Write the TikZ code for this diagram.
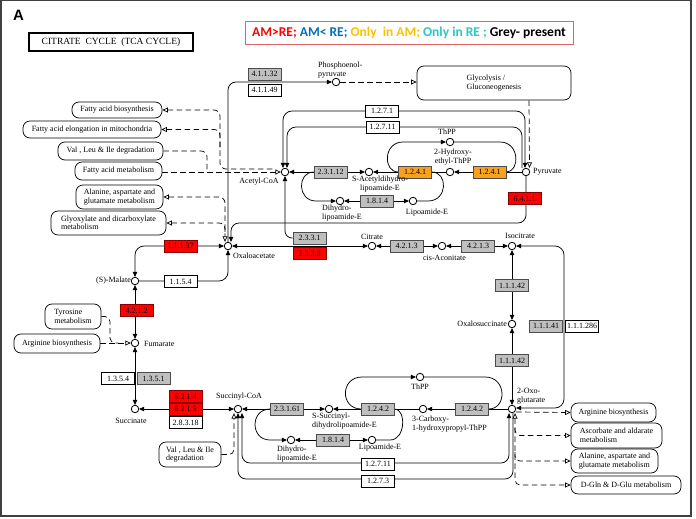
\documentclass[tikz,border=0pt]{standalone}
\usepackage{fontspec}
\setmainfont{Liberation Serif}
\newfontfamily\legfont{Carlito}
\newfontfamily\headfont{Liberation Sans}
\usetikzlibrary{arrows.meta,backgrounds}
\definecolor{kgrey}{HTML}{BFBFBF}
\definecolor{kred}{HTML}{FF0000}
\definecolor{kdred}{HTML}{8A0000}
\definecolor{korange}{HTML}{F9A11B}
\definecolor{lblue}{HTML}{0070C0}
\definecolor{lyel}{HTML}{FFC000}
\definecolor{lcyan}{HTML}{2CC6C6}
\definecolor{lbord}{HTML}{E06666}
\definecolor{kframe}{HTML}{404040}
\tikzset{
  ln/.style={line width=0.75pt, draw=black},
  dl/.style={line width=0.7pt, draw=black, dash pattern=on 5.5pt off 3.5pt},
  >={Triangle[length=5pt,width=4.6pt]},
  oh/.style={-{Triangle[open,length=5.5pt,width=5pt]}},
  ho/.style={{Triangle[open,length=5.5pt,width=5pt]}-},
  hoh/.style={{Triangle[open,length=5.5pt,width=5pt]}-{Triangle[open,length=5.5pt,width=5pt]}},
  ec/.style={draw=black, line width=0.6pt, fill=white, minimum width=33pt, minimum height=12pt, inner sep=0pt, font=\fontsize{8}{8}\selectfont},
  ecg/.style={ec, fill=kgrey, draw=black!70},
  ecr/.style={ec, fill=kred, draw=kdred},
  eco/.style={ec, fill=korange, draw=black!70},
  cpd/.style={circle, draw=black, fill=white, line width=0.8pt, minimum size=7.5pt, inner sep=0pt},
  pw/.style={draw=black, line width=0.7pt, rounded corners=7pt, fill=white, inner sep=0pt, align=left, font=\fontsize{8}{8.5}\selectfont},
  lb/.style={inner sep=0pt, font=\fontsize{8}{8.5}\selectfont},
}
\begin{document}
\begin{tikzpicture}[x=1pt,y=-1pt]
\useasboundingbox (0,0) rectangle (696,519);
% header
\node[font=\headfont\bfseries\fontsize{15}{15}\selectfont, inner sep=0pt, anchor=base west] (hA) at (13,21) {A};
\node[draw=black, line width=1.5pt, minimum width=164pt, minimum height=18pt, inner sep=0pt, font=\fontsize{9.5}{10}\selectfont] (title) at (111,42) {CITRATE\ \ CYCLE\ \ (TCA CYCLE)};
\node[draw=lbord, line width=0.8pt, fill=white, minimum width=328pt, minimum height=23pt, inner sep=0pt, font=\legfont\bfseries\fontsize{13.5}{14}\selectfont] (legend) at (409,33) {\textcolor{kred}{AM>RE;} \textcolor{lblue}{AM< RE;} \textcolor{lyel}{Only\ \ in AM;} \textcolor{lcyan}{Only in RE ;} Grey- present};
% pathway maps
\node[pw, minimum width=90pt, minimum height=16pt] (mFAB) at (117,110) {Fatty acid biosynthesis};
\node[pw, minimum width=138pt, minimum height=17pt] (mFAE) at (92,129.5) {Fatty acid elongation in mitochondria};
\node[pw, minimum width=105pt, minimum height=18pt] (mVLI) at (110.5,151) {Val , Leu \& Ile degradation};
\node[pw, minimum width=87pt, minimum height=18pt] (mFAM) at (118.5,171) {Fatty acid metabolism};
\node[pw, minimum width=87pt, minimum height=24pt] (mALA) at (119.5,197) {Alanine, aspartate and\\glutamate metabolism};
\node[pw, minimum width=115pt, minimum height=24pt] (mGLY) at (108.5,223) {Glyoxylate and dicarboxylate\\metabolism};
\node[pw, minimum width=154pt, minimum height=34pt] (mGLC) at (494,83) {Glycolysis /\\Gluconeogenesis};
\node[pw, minimum width=56pt, minimum height=25pt] (mTYR) at (73,316.5) {Tyrosine\\metabolism};
\node[pw, minimum width=86pt, minimum height=19pt] (mARG1) at (57,343.5) {Arginine biosynthesis};
\node[pw, minimum width=62pt, minimum height=25pt] (mVLI2) at (190,454.5) {Val , Leu \& Ile\\degradation};
\node[pw, minimum width=85pt, minimum height=19pt] (mARG2) at (613.5,412.5) {Arginine biosynthesis};
\node[pw, minimum width=91pt, minimum height=25pt] (mASC) at (616.5,435.5) {Ascorbate and aldarate\\metabolism};
\node[pw, minimum width=87pt, minimum height=24pt] (mALA2) at (614.5,461) {Alanine, aspartate and\\glutamate metabolism};
\node[pw, minimum width=110pt, minimum height=18pt] (mDGLN) at (626,485) {D-Gln \& D-Glu metabolism};
% enzymes
\node[ecg] (e41132) at (264.5,74) {4.1.1.32};
\node[ec] (e41149) at (264.5,90) {4.1.1.49};
\node[ec] (e1271) at (382,111) {1.2.7.1};
\node[ec] (e12711a) at (382.5,127) {1.2.7.11};
\node[ecg] (e23112) at (330.5,172) {2.3.1.12};
\node[eco] (e1241a) at (415,172) {1.2.4.1};
\node[eco] (e1241b) at (489.5,172) {1.2.4.1};
\node[ecg] (e1814a) at (377,201) {1.8.1.4};
\node[ecr] (e6411) at (524.5,198.5) {\textcolor{black}{6.4.1.1}};
\node[ecg] (e2331) at (309.5,238) {2.3.3.1};
\node[ecr] (e2338) at (309.5,253.5) {\textcolor{black}{2.3.3.8}};
\node[ecr] (e11137) at (180.5,246) {\textcolor{black}{1.1.1.37}};
\node[ecg] (e4213a) at (406.5,246) {4.2.1.3};
\node[ecg] (e4213b) at (478,246) {4.2.1.3};
\node[ecg] (e11142a) at (512,285.5) {1.1.1.42};
\node[ecg] (e11142b) at (512,360.5) {1.1.1.42};
\node[ecg] (e11141) at (546,326) {1.1.1.41};
\node[ec] (e111286) at (582,326) {1.1.1.286};
\node[ec] (e1154) at (180.5,281.5) {1.1.5.4};
\node[ecr] (e4212) at (136.5,310.5) {\textcolor{black}{4.2.1.2}};
\node[ec] (e1354) at (118,378.5) {1.3.5.4};
\node[ecg] (e1351) at (153.5,378.5) {1.3.5.1};
\node[ecr] (e6214) at (185.5,396.5) {\textcolor{black}{6.2.1.4}};
\node[ecr] (e6215) at (185.5,409) {\textcolor{black}{6.2.1.5}};
\node[ec] (e28318) at (185.5,422.5) {2.8.3.18};
\node[ecg] (e23161) at (287,409) {2.3.1.61};
\node[ecg] (e1242a) at (378,409) {1.2.4.2};
\node[ecg] (e1242b) at (472,409) {1.2.4.2};
\node[ecg] (e1814b) at (333,440) {1.8.1.4};
\node[ec] (e12711b) at (378,464) {1.2.7.11};
\node[ec] (e1273) at (378,481) {1.2.7.3};
% compounds
\node[cpd] (pep) at (336,82) {};
\node[cpd] (acoa) at (285,172) {};
\node[cpd] (sacet) at (369,172) {};
\node[cpd] (hthpp) at (450,172) {};
\node[cpd] (pyr) at (526,172) {};
\node[cpd] (thpp1) at (450,142) {};
\node[cpd] (dhl1) at (340,201) {};
\node[cpd] (lip1) at (413,201) {};
\node[cpd] (oaa) at (228,246) {};
\node[cpd] (cit) at (372,246) {};
\node[cpd] (cis) at (442,246) {};
\node[cpd] (iso) at (512,246) {};
\node[cpd] (osuc) at (512,324) {};
\node[cpd] (oxo) at (512,409) {};
\node[cpd] (mal) at (135,281) {};
\node[cpd] (fum) at (135,343) {};
\node[cpd] (suc) at (135,409) {};
\node[cpd] (scoa) at (238,409) {};
\node[cpd] (ssuc) at (329,409) {};
\node[cpd] (carb) at (423,409) {};
\node[cpd] (thpp2) at (420,377) {};
\node[cpd] (dhl2) at (291,440) {};
\node[cpd] (lip2) at (372,440) {};
% compound labels
\node[lb, anchor=north west, align=left] (tpep) at (318,62) {Phosphoenol-\\pyruvate};
\node[lb] (tacoa) at (259,182) {Acetyl-CoA};
\node[lb, anchor=north, align=center] (tsacet) at (380,176) {S-Acetyldihydro-\\lipoamide-E};
\node[lb, anchor=north, align=center] (thth) at (453,149) {2-Hydroxy-\\ethyl-ThPP};
\node[lb] (tthpp1) at (447,132) {ThPP};
\node[lb, anchor=west] (tpyr) at (533,172) {Pyruvate};
\node[lb, anchor=north west, align=left] (tdhl1) at (322,205) {Dihydro-\\lipoamide-E};
\node[lb] (tlip1) at (427,213) {Lipoamide-E};
\node[lb] (tcit) at (372,237) {Citrate};
\node[lb] (tcis) at (444.5,258) {cis-Aconitate};
\node[lb] (tiso) at (520,236) {Isocitrate};
\node[lb] (toaa) at (254,256) {Oxaloacetate};
\node[lb, anchor=east] (tosuc) at (507,324) {Oxalosuccinate};
\node[lb, anchor=north west, align=left] (toxo) at (517,388) {2-Oxo-\\glutarate};
\node[lb, anchor=east] (tmal) at (131,281) {(S)-Malate};
\node[lb, anchor=west] (tfum) at (144,344) {Fumarate};
\node[lb] (tsuc) at (131,421) {Succinate};
\node[lb] (tscoa) at (239,397) {Succinyl-CoA};
\node[lb, anchor=north west, align=left] (tssuc) at (312,413) {S-Succinyl-\\dihydrolipoamide-E};
\node[lb, anchor=north west, align=left] (tcarb) at (412,416) {3-Carboxy-\\1-hydroxypropyl-ThPP};
\node[lb] (tthpp2) at (420,387) {ThPP};
\node[lb] (tlip2) at (380,448) {Lipoamide-E};
\node[lb, anchor=north west, align=left] (tdhl2) at (277,446) {Dihydro-\\lipoamide-E};
% junction coordinates
\coordinate (jA) at (274,169);
\coordinate (jB) at (515,428);
\coordinate (jC) at (515,452);
% frame
\draw[kframe, line width=1.2pt] (1,0.8) rectangle (691,516);
\begin{scope}[on background layer]
\fill[white] (0,0) rectangle (696,519);
% oxaloacetate / PEP / pyruvate
\draw[ln,->,rounded corners=8pt] (oaa.north) -- (228,82) -- (pep.west);
\draw[ln,->,rounded corners=8pt] (pyr.south) -- (526,223) -- (231,223) -- ([xshift=3pt]oaa.north);
\draw[ln,<->] (oaa) -- (cit);
\draw[ln,->,rounded corners=7pt] (e2331.west) -| (acoa.south);
\draw[ln,<->,rounded corners=9pt] ([xshift=-1pt]pyr.north) -- (525,111) -- (283,111) -- ([xshift=-2pt]acoa.north);
\draw[ln,->,rounded corners=9pt] ([xshift=-4pt]pyr.north) -- (522,127) -- (287,127) -- ([xshift=2pt]acoa.north);
\draw[dl,oh] ([xshift=35pt]mGLC.south) -- ([xshift=3.5pt]pyr.north);
\draw[dl,oh] (pep.east) -- (pep -| mGLC.west);
% fatty acids etc.
\draw[dl,oh] (mFAM.east |- acoa) -- (acoa.west);
\draw[dl,ho,rounded corners=6pt] (mFAB.east) -- (220,110) -- (220,169) -- (jA);
\draw[dl,ho,rounded corners=6pt] (mFAE.east) -| (220,150);
\draw[dl,rounded corners=6pt] (mVLI.east) -| (207,172);
\draw[dl,hoh,rounded corners=6pt] (mALA.east) -| ([xshift=-3pt]oaa.north);
\draw[dl,ho,rounded corners=6pt] (mGLY.east) -| (225,232);
% pyruvate dehydrogenase
\draw[ln,<->] (acoa) -- (sacet);
\draw[ln,->] (hthpp) -- (sacet);
\draw[ln,->] (pyr) -- (hthpp);
\draw[ln,->] (e1241a.west) .. controls (383,172) and (383,142) .. (403,142) -- (thpp1);
\draw[ln] (thpp1) -- (500,142) .. controls (520,142) and (520,172) .. (e1241b.east);
\draw[ln,->] (e23112.west) .. controls (297,172) and (297,201) .. (316,201) -- (dhl1);
\draw[ln,<->] (dhl1) -- (lip1);
\draw[ln] (lip1) -- (428,201) .. controls (448,201) and (448,172) .. (e1241a.east);
% citrate to 2-oxoglutarate
\draw[ln,<->] (cit) -- (cis);
\draw[ln,<->] (cis) -- (iso);
\draw[ln,<->] (iso) -- (osuc);
\draw[ln,<->] (osuc) -- (oxo);
\draw[ln,<->,rounded corners=9pt] (iso.east) -- (564,246) -- (564,408) -- ([yshift=1pt]oxo.east);
% malate, fumarate, succinate
\draw[ln,<->,rounded corners=9pt] (oaa.west) -- (135,246) -- (mal.north);
\draw[ln,->,rounded corners=9pt] (mal.east) -- (228,281) -- (oaa.south);
\draw[ln,<->] (mal) -- (fum);
\draw[ln,<->] (fum) -- (suc);
\draw[dl,rounded corners=5pt] (mTYR.east) -- (110,316.5) -- (110,343) -- (118,343);
\draw[dl,oh] (mARG1.east |- fum) -- (fum.west);
\draw[ln,<->] (suc) -- (scoa);
\draw[ln,<->] (scoa) -- (ssuc);
\draw[ln,->] (carb) -- (ssuc);
\draw[ln,->] (oxo) -- (carb);
\draw[ln,->] (e1242a.west) .. controls (340,409) and (340,377) .. (362,377) -- (thpp2);
\draw[ln] (thpp2) -- (485,377) .. controls (507,377) and (507,409) .. (e1242b.east);
\draw[ln,->] (e23161.west) .. controls (250,409) and (250,440) .. (270,440) -- (dhl2);
\draw[ln,<->] (dhl2) -- (lip2);
\draw[ln] (lip2) -- (390,440) .. controls (406,440) and (406,409) .. (e1242a.east);
\draw[ln,<->,rounded corners=8pt] ([xshift=4pt]scoa.south) -- (242,463) -- (509,463) -- ([xshift=-3pt]oxo.south);
\draw[ln,->,rounded corners=8pt] ([xshift=1pt]oxo.south) -- (513,479) -- (238,479) -- (scoa.south);
\draw[dl,oh,rounded corners=5pt] (mVLI2.east) -- (234,454.5) -- ([xshift=-4pt]scoa.south);
% 2-oxoglutarate side maps
\draw[dl,oh] ([yshift=-3pt]oxo.east) -- (mARG2.west);
\draw[dl,hoh,rounded corners=5pt] ([xshift=3pt]oxo.south) -- (515,485) -- (mDGLN.west);
\draw[dl,oh,rounded corners=5pt] (jB) |- (mASC.west);
\draw[dl,oh,rounded corners=5pt] (jC) |- (mALA2.west);
\end{scope}
\end{tikzpicture}
\end{document}
